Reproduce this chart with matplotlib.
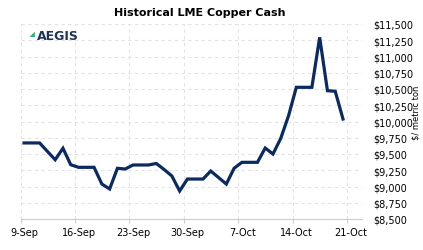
import matplotlib
matplotlib.use("Agg")
import matplotlib.pyplot as plt
import matplotlib.dates as mdates
from matplotlib.ticker import FixedLocator, FuncFormatter, NullFormatter
import numpy as np
import pandas as pd

# daily LME copper cash price, US$/t (weekends carried forward)
start = "2021-09-09"
prices = [9670, 9670, 9670, 9540, 9412, 9588, 9335, 9295, 9295, 9295,
          9038, 8962, 9280, 9269, 9331, 9331, 9331, 9354, 9262, 9162,
          8931, 9115, 9115, 9115, 9238, 9138, 9038, 9280, 9372, 9372,
          9372, 9592, 9500, 9742, 10089, 10526, 10526, 10526, 11295, 10474,
          10465, 10038]
tick_dates = ["2021-09-09", "2021-09-16", "2021-09-23", "2021-09-30",
              "2021-10-07", "2021-10-14", "2021-10-21"]
y_ticks = list(range(8500, 11501, 250))

dates = pd.date_range(start, periods=len(prices)) + pd.Timedelta(hours=11)
ticks = pd.to_datetime(tick_dates)

navy = "#0b2a62"
grid_c = "#e3e3e3"

fig = plt.figure(figsize=(4.23, 2.51), dpi=100)
ax = fig.add_axes([20.5 / 423, 1 - 220 / 251, (362 - 20.5) / 423, 195 / 251])

ax.plot(dates, prices, color=navy, lw=2.3, solid_joinstyle="miter", zorder=3)

ax.set_xlim(pd.Timestamp(start), pd.Timestamp(start) + pd.Timedelta(days=43.9))
ax.set_ylim(8500, 11500)

# ticks at midnight, labels shifted half a day
ax.xaxis.set_major_locator(FixedLocator(mdates.date2num(ticks)))
ax.xaxis.set_major_formatter(NullFormatter())
ax.xaxis.set_minor_locator(FixedLocator(mdates.date2num(ticks + pd.Timedelta(hours=12))))
ax.xaxis.set_minor_formatter(FuncFormatter(
    lambda v, p: f"{mdates.num2date(v).day}-{mdates.num2date(v).strftime('%b')}"))
ax.tick_params(axis="x", which="major", length=3, color="#cccccc", width=0.8)
ax.tick_params(axis="x", which="minor", length=0, pad=6, labelsize=7)

ax.yaxis.tick_right()
ax.set_yticks(y_ticks)
ax.yaxis.set_major_formatter(FuncFormatter(lambda v, p: f"${v:,.0f}"))
ax.tick_params(axis="y", length=0, pad=8, labelsize=7)

for s in ["top", "left", "right"]:
    ax.spines[s].set_visible(False)
ax.spines["bottom"].set_color("#cccccc")
ax.spines["bottom"].set_linewidth(0.8)

ax.grid(True, which="major", color=grid_c, lw=0.8, ls=(0, (3, 3)))
ax.set_axisbelow(True)

fig.text(200 / 423, 1 - 13 / 251, "Historical LME Copper Cash", ha="center",
         va="center", fontsize=8, fontweight="bold")
fig.text(416 / 423, 1 - 113 / 251, "$/ metric ton", rotation=90, ha="center",
         va="center", fontsize=6)

# AEGIS logo
fig.text(37 / 423, 1 - 36 / 251, "AEGIS", color="#1d3557", fontsize=9,
         fontweight="bold", ha="left", va="center")
fig.text(30 / 423, 1 - 33 / 251, "\u25e3", color="#22b573", fontsize=5,
         ha="left", va="center", rotation=90)

fig.savefig("out.png", dpi=100, facecolor="white")
